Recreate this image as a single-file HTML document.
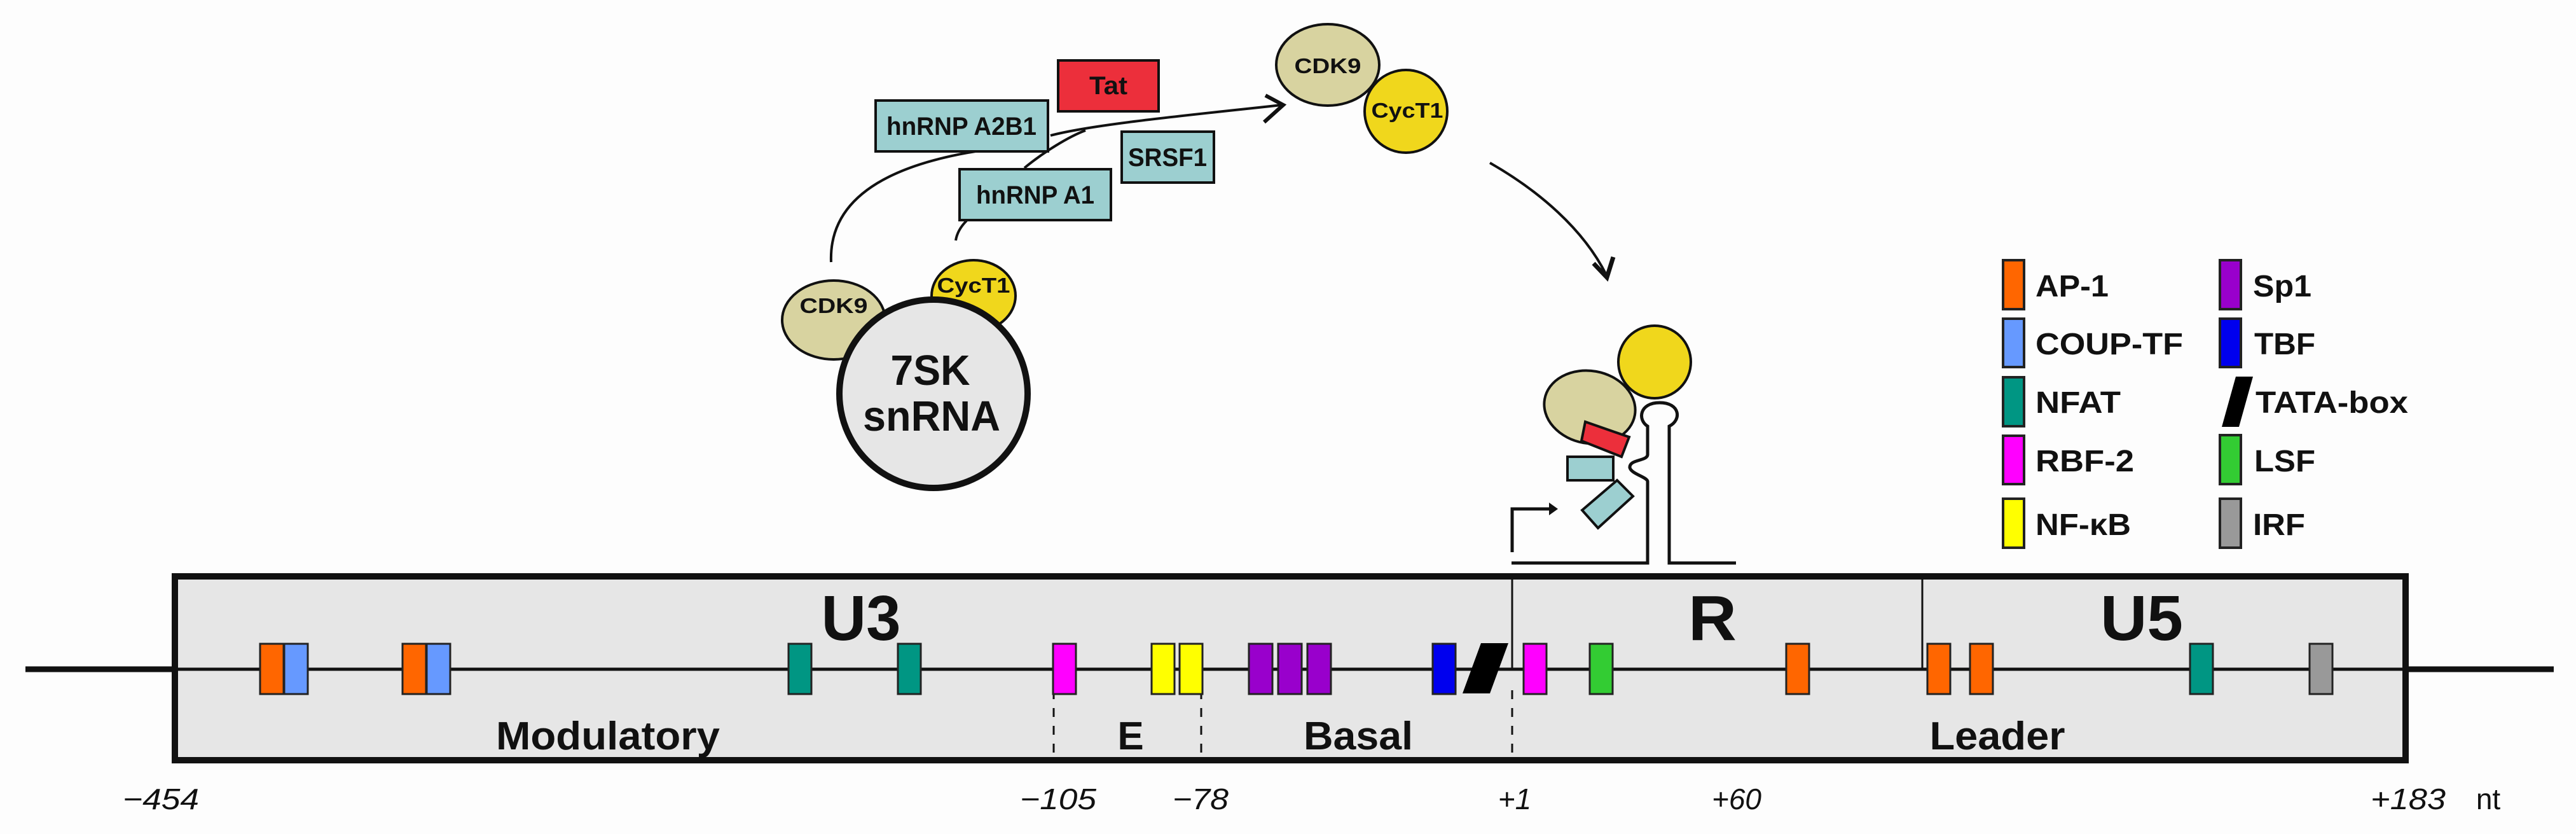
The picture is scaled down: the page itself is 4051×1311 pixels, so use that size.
<!DOCTYPE html>
<html><head><meta charset="utf-8"><style>
html,body{margin:0;padding:0;background:#fff}
svg{display:block}
text{font-family:"Liberation Sans",sans-serif;font-weight:bold;fill:#111}
</style></head><body>
<svg width="4051" height="1311" viewBox="0 0 4051 1311" xmlns="http://www.w3.org/2000/svg">
<rect width="4051" height="1311" fill="#fdfdfd"/>

<!-- connectors top -->
<g fill="none" stroke="#111" stroke-width="4">
<path d="M1307 412 C1303 310 1400 260 1534 238"/>
<path d="M1652 213 C1720 195 1880 180 2016 165"/>
<path d="M1503 378 C1505 365 1512 355 1520 347"/>
<path d="M1611 264 C1640 240 1680 215 1707 205"/>
<path d="M1990 150 L2018 165 L1988 192" stroke-width="6"/>
<path d="M2343 256 C2420 300 2490 360 2526 432"/>
<path d="M2506 414 L2527 436 L2537 404" stroke-width="7"/>
</g>

<!-- boxes top -->
<g stroke="#111" stroke-width="4">
<rect x="1377" y="158" width="271" height="80" fill="#9ccfd0"/>
<rect x="1664" y="95" width="158" height="80" fill="#ec2f3b"/>
<rect x="1764" y="207" width="145" height="80" fill="#9ccfd0"/>
<rect x="1509" y="266" width="238" height="80" fill="#9ccfd0"/>
</g>
<text x="1512" y="212" font-size="40" text-anchor="middle" textLength="236" lengthAdjust="spacingAndGlyphs">hnRNP A2B1</text>
<text x="1743" y="148" font-size="40" text-anchor="middle" textLength="60" lengthAdjust="spacingAndGlyphs">Tat</text>
<text x="1836" y="261" font-size="40" text-anchor="middle" textLength="124" lengthAdjust="spacingAndGlyphs">SRSF1</text>
<text x="1628" y="320" font-size="40" text-anchor="middle" textLength="186" lengthAdjust="spacingAndGlyphs">hnRNP A1</text>

<!-- 7SK complex -->
<g stroke="#111" stroke-width="4">
<ellipse cx="1311" cy="503" rx="81" ry="62" fill="#d8d3a0"/>
<ellipse cx="1531" cy="465" rx="66" ry="56" fill="#f0d71c"/>
<circle cx="1468" cy="619" r="148" fill="#e6e6e6" stroke-width="10"/>
</g>
<text x="1311" y="492" font-size="33" text-anchor="middle" textLength="107" lengthAdjust="spacingAndGlyphs">CDK9</text>
<text x="1531" y="460" font-size="33" text-anchor="middle" textLength="115" lengthAdjust="spacingAndGlyphs">CycT1</text>
<text x="1463" y="605" font-size="67" text-anchor="middle" textLength="125" lengthAdjust="spacingAndGlyphs">7SK</text>
<text x="1465" y="677" font-size="67" text-anchor="middle" textLength="216" lengthAdjust="spacingAndGlyphs">snRNA</text>

<!-- free P-TEFb -->
<g stroke="#111" stroke-width="4">
<ellipse cx="2088" cy="102" rx="81" ry="64" fill="#d8d3a0"/>
<circle cx="2211" cy="175" r="65" fill="#f0d71c"/>
</g>
<text x="2088" y="115" font-size="33" text-anchor="middle" textLength="105" lengthAdjust="spacingAndGlyphs">CDK9</text>
<text x="2213" y="185" font-size="33" text-anchor="middle" textLength="113" lengthAdjust="spacingAndGlyphs">CycT1</text>

<!-- TAR complex -->
<g stroke="#111" stroke-width="4">
<circle cx="2602" cy="569" r="57" fill="#f0d71c"/>
<ellipse cx="2500" cy="640" rx="72" ry="57" fill="#d8d3a0" transform="rotate(10 2500 640)"/>
<polygon points="2493,663 2562,687 2550,718 2487,693" fill="#ec2f3b"/>
<rect x="2465" y="718" width="72" height="37" fill="#9ccfd0"/>
<polygon points="2488,802 2543,755 2568,780 2513,830" fill="#9ccfd0"/>
</g>
<g fill="none" stroke="#111" stroke-width="5">
<path d="M2378 868 L2378 800 L2440 800"/>
<path d="M2377 885 L2591 885 L2591 757 C2591 750 2565 745 2563 735 C2562 722 2590 725 2591 715 L2591 670 C2575 660 2578 633 2610 633 C2642 633 2645 660 2625 670 L2625 885 L2730 885"/>
</g>
<polygon points="2436,790 2450,800 2436,810" fill="#111"/>

<!-- main line outside -->
<line x1="40" y1="1052" x2="272" y2="1052" stroke="#111" stroke-width="9"/>
<line x1="3786" y1="1052" x2="4016" y2="1052" stroke="#111" stroke-width="9"/>
<!-- main box -->
<rect x="275" y="906" width="3508" height="289" fill="#e6e6e6" stroke="#111" stroke-width="10"/>
<line x1="275" y1="1052" x2="3783" y2="1052" stroke="#111" stroke-width="5"/>
<line x1="2378" y1="906" x2="2378" y2="1052" stroke="#111" stroke-width="3"/>
<line x1="3023" y1="906" x2="3023" y2="1052" stroke="#111" stroke-width="3"/>
<g stroke="#111" stroke-width="3" stroke-dasharray="14 14">
<line x1="1657" y1="1085" x2="1657" y2="1190"/>
<line x1="1889" y1="1085" x2="1889" y2="1190"/>
<line x1="2378" y1="1085" x2="2378" y2="1190"/>
</g>

<!-- elements -->
<g stroke="#222" stroke-width="3">
<rect x="409" y="1012" width="37" height="79" fill="#ff6600"/>
<rect x="447" y="1012" width="37" height="79" fill="#6699ff"/>
<rect x="633" y="1012" width="37" height="79" fill="#ff6600"/>
<rect x="671" y="1012" width="37" height="79" fill="#6699ff"/>
<rect x="1240" y="1012" width="36" height="79" fill="#009683"/>
<rect x="1412" y="1012" width="36" height="79" fill="#009683"/>
<rect x="1656" y="1012" width="36" height="79" fill="#ff00ff"/>
<rect x="1811" y="1012" width="36" height="79" fill="#ffff00"/>
<rect x="1855" y="1012" width="36" height="79" fill="#ffff00"/>
<rect x="1964" y="1012" width="37" height="79" fill="#9900cc"/>
<rect x="2010" y="1012" width="37" height="79" fill="#9900cc"/>
<rect x="2056" y="1012" width="37" height="79" fill="#9900cc"/>
<rect x="2253" y="1012" width="36" height="79" fill="#0000ee"/>
<rect x="2396" y="1012" width="36" height="79" fill="#ff00ff"/>
<rect x="2500" y="1012" width="36" height="79" fill="#33cc33"/>
<rect x="2809" y="1012" width="36" height="79" fill="#ff6600"/>
<rect x="3031" y="1012" width="36" height="79" fill="#ff6600"/>
<rect x="3098" y="1012" width="36" height="79" fill="#ff6600"/>
<rect x="3444" y="1012" width="36" height="79" fill="#009683"/>
<rect x="3632" y="1012" width="36" height="79" fill="#999999"/>
</g>
<polygon points="2329,1011 2372,1011 2343,1090 2300,1090" fill="#000"/>

<!-- region labels -->
<text x="1354" y="1006" font-size="100" text-anchor="middle" textLength="125" lengthAdjust="spacingAndGlyphs">U3</text>
<text x="2693" y="1006" font-size="100" text-anchor="middle" textLength="76" lengthAdjust="spacingAndGlyphs">R</text>
<text x="3368" y="1006" font-size="100" text-anchor="middle" textLength="130" lengthAdjust="spacingAndGlyphs">U5</text>
<text x="956" y="1178" font-size="62" text-anchor="middle" textLength="352" lengthAdjust="spacingAndGlyphs">Modulatory</text>
<text x="1778" y="1178" font-size="62" text-anchor="middle">E</text>
<text x="2136" y="1178" font-size="62" text-anchor="middle" textLength="172" lengthAdjust="spacingAndGlyphs">Basal</text>
<text x="3141" y="1178" font-size="62" text-anchor="middle" textLength="213" lengthAdjust="spacingAndGlyphs">Leader</text>

<!-- positions -->
<g font-size="46" style="font-weight:normal;font-style:italic">
<text x="253" y="1272" text-anchor="middle" style="font-weight:normal" textLength="120" lengthAdjust="spacingAndGlyphs">−454</text>
<text x="1664" y="1272" text-anchor="middle" style="font-weight:normal" textLength="120" lengthAdjust="spacingAndGlyphs">−105</text>
<text x="1888" y="1272" text-anchor="middle" style="font-weight:normal" textLength="88" lengthAdjust="spacingAndGlyphs">−78</text>
<text x="2382" y="1272" text-anchor="middle" style="font-weight:normal">+1</text>
<text x="2731" y="1272" text-anchor="middle" style="font-weight:normal">+60</text>
<text x="3787" y="1272" text-anchor="middle" style="font-weight:normal" textLength="118" lengthAdjust="spacingAndGlyphs">+183</text>
<text x="3913" y="1272" text-anchor="middle" style="font-weight:normal;font-style:normal">nt</text>
</g>

<!-- legend -->
<g stroke="#222" stroke-width="4">
<rect x="3150" y="409" width="33" height="77" fill="#ff6600"/>
<rect x="3150" y="501" width="33" height="76" fill="#6699ff"/>
<rect x="3150" y="593" width="33" height="77" fill="#009683"/>
<rect x="3150" y="685" width="33" height="76" fill="#ff00ff"/>
<rect x="3150" y="784" width="33" height="77" fill="#ffff00"/>
<rect x="3491" y="409" width="33" height="77" fill="#9900cc"/>
<rect x="3491" y="501" width="33" height="76" fill="#0000ee"/>
<rect x="3491" y="684" width="33" height="77" fill="#33cc33"/>
<rect x="3491" y="784" width="33" height="77" fill="#999999"/>
</g>
<polygon points="3516,592 3543,592 3521,671 3494,671" fill="#000"/>
<g font-size="48">
<text x="3201" y="466" textLength="115" lengthAdjust="spacingAndGlyphs">AP-1</text>
<text x="3201" y="557" textLength="232" lengthAdjust="spacingAndGlyphs">COUP-TF</text>
<text x="3201" y="649" textLength="134" lengthAdjust="spacingAndGlyphs">NFAT</text>
<text x="3201" y="741" textLength="155" lengthAdjust="spacingAndGlyphs">RBF-2</text>
<text x="3201" y="841" textLength="150" lengthAdjust="spacingAndGlyphs">NF-κB</text>
<text x="3543" y="466" textLength="92" lengthAdjust="spacingAndGlyphs">Sp1</text>
<text x="3545" y="557" textLength="96" lengthAdjust="spacingAndGlyphs">TBF</text>
<text x="3547" y="649" textLength="240" lengthAdjust="spacingAndGlyphs">TATA-box</text>
<text x="3545" y="741" textLength="96" lengthAdjust="spacingAndGlyphs">LSF</text>
<text x="3543" y="841" textLength="82" lengthAdjust="spacingAndGlyphs">IRF</text>
</g>
</svg>
</body></html>
